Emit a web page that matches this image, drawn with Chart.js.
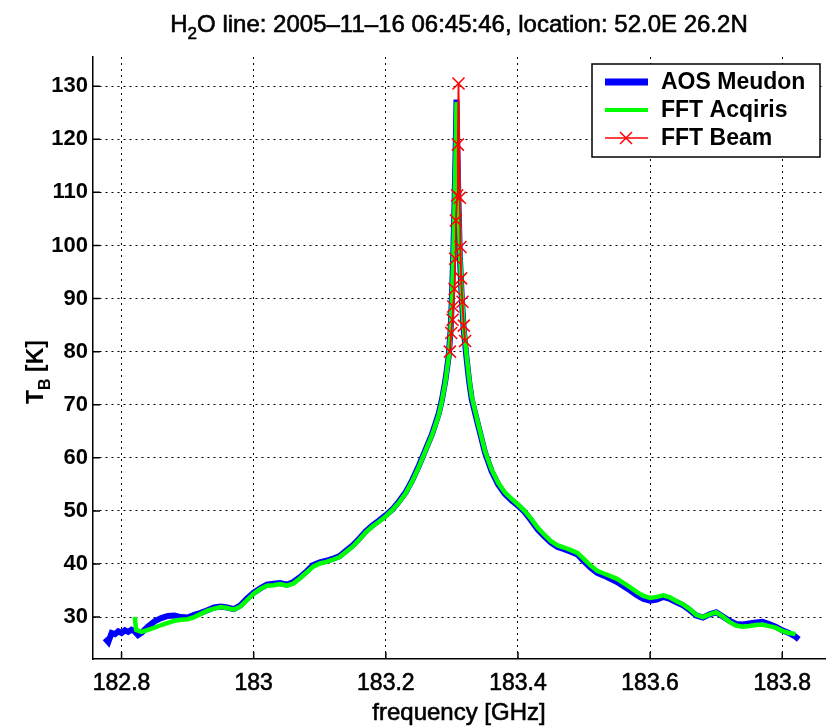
<!DOCTYPE html>
<html>
<head>
<meta charset="utf-8">
<script src="https://cdn.jsdelivr.net/npm/chart.js@4.4.1/dist/chart.umd.min.js"></script>
<style>
  html, body { margin: 0; padding: 0; background: #fff; }
  #wrap { width: 835px; height: 728px; position: relative; }
</style>
</head>
<body>
<div id="wrap"><canvas id="chart"></canvas></div>
<script>
// AOS Meudon spectrum
const aosFreq = [182.775, 182.78, 182.785, 182.79, 182.795, 182.8, 182.805, 182.81, 182.815, 182.82, 182.825,
  182.83, 182.84, 182.85, 182.86, 182.87, 182.88, 182.89, 182.9, 182.91, 182.92, 182.93, 182.94, 182.95, 182.96,
  182.97, 182.98, 182.99, 183.0, 183.01, 183.02, 183.03, 183.04, 183.05, 183.06, 183.07, 183.08, 183.09, 183.1,
  183.11, 183.12, 183.13, 183.14, 183.15, 183.16, 183.17, 183.18, 183.19, 183.2, 183.21, 183.22, 183.23, 183.24,
  183.25, 183.26, 183.27, 183.28, 183.285, 183.29, 183.295, 183.298, 183.3, 183.302, 183.304, 183.306, 183.307,
  183.308, 183.31, 183.312, 183.315, 183.318, 183.322, 183.326, 183.33, 183.34, 183.35, 183.36, 183.37, 183.38,
  183.39, 183.4, 183.41, 183.42, 183.43, 183.44, 183.45, 183.46, 183.47, 183.48, 183.49, 183.5, 183.51, 183.52,
  183.53, 183.54, 183.55, 183.56, 183.57, 183.58, 183.59, 183.6, 183.61, 183.62, 183.63, 183.64, 183.65, 183.66,
  183.67, 183.68, 183.69, 183.7, 183.71, 183.72, 183.73, 183.74, 183.75, 183.76, 183.77, 183.78, 183.79, 183.8,
  183.81, 183.82, 183.825];
const aosTb = [26.0, 25.3, 27.0, 26.8, 27.3, 27.0, 27.5, 27.2, 27.6, 27.3, 26.6,
  27.0, 28.2, 29.2, 29.8, 30.2, 30.3, 30.0, 29.9, 30.4, 30.8, 31.3, 31.8, 32.0, 31.8,
  31.5, 32.2, 33.5, 34.6, 35.4, 36.1, 36.3, 36.4, 36.1, 36.6, 37.5, 38.6, 39.8, 40.3,
  40.6, 41.0, 41.5, 42.5, 43.5, 44.8, 46.2, 47.3, 48.2, 49.2, 50.3, 51.8, 53.5, 55.8,
  58.5, 61.5, 64.5, 68.3, 71.0, 74.5, 79.0, 84.0, 90.0, 98.0, 108.0, 120.0, 127.5,
  120.0, 108.0, 98.0, 90.0, 84.0, 79.0, 74.5, 71.0, 66.0, 61.0, 57.5, 55.0, 53.2,
  52.0, 51.0, 49.8, 48.2, 46.5, 45.2, 44.0, 43.2, 42.8, 42.3, 41.8, 40.5, 39.3, 38.3,
  37.8, 37.2, 36.6, 35.8, 35.0, 34.1, 33.4, 33.1, 33.3, 33.8, 33.4, 32.8, 32.2, 31.3,
  30.3, 29.9, 30.5, 30.9, 30.1, 29.3, 28.7, 28.6, 28.8, 29.0, 29.1, 28.7, 28.2, 27.5,
  27.0, 26.3, 25.8];

// FFT Acqiris spectrum
const acqFreq = [182.82, 182.822, 182.83, 182.84, 182.85, 182.86, 182.87, 182.88, 182.89, 182.9, 182.91, 182.92,
  182.93, 182.94, 182.95, 182.96, 182.97, 182.98, 182.99, 183.0, 183.01, 183.02, 183.03, 183.04, 183.05, 183.06,
  183.07, 183.08, 183.09, 183.1, 183.11, 183.12, 183.13, 183.14, 183.15, 183.16, 183.17, 183.18, 183.19, 183.2,
  183.21, 183.22, 183.23, 183.24, 183.25, 183.26, 183.27, 183.28, 183.285, 183.29, 183.295, 183.298, 183.3,
  183.302, 183.304, 183.306, 183.307, 183.308, 183.31, 183.312, 183.315, 183.318, 183.322, 183.326, 183.33,
  183.34, 183.35, 183.36, 183.37, 183.38, 183.39, 183.4, 183.41, 183.42, 183.43, 183.44, 183.45, 183.46, 183.47,
  183.48, 183.49, 183.5, 183.51, 183.52, 183.53, 183.54, 183.55, 183.56, 183.57, 183.58, 183.59, 183.6, 183.61,
  183.62, 183.63, 183.64, 183.65, 183.66, 183.67, 183.68, 183.69, 183.7, 183.71, 183.72, 183.73, 183.74, 183.75,
  183.76, 183.77, 183.78, 183.79, 183.8, 183.81, 183.82];
const acqTb = [30.0, 27.6, 27.2, 27.6, 28.0, 28.5, 28.9, 29.3, 29.5, 29.6, 30.0, 30.6,
  31.2, 31.6, 31.9, 31.7, 31.4, 32.0, 33.2, 34.4, 35.3, 35.9, 36.0, 36.2, 35.9, 36.3,
  37.3, 38.4, 39.5, 40.1, 40.4, 40.8, 41.3, 42.3, 43.3, 44.6, 46.0, 47.1, 48.0, 49.0,
  50.2, 51.6, 53.3, 55.6, 58.3, 61.3, 64.3, 68.0, 70.8, 74.2, 78.8, 83.8, 89.5,
  97.5, 107.5, 119.5, 127.0, 121.0, 109.0, 99.0, 90.5, 84.5, 79.5, 75.0, 71.5,
  66.3, 61.3, 57.8, 55.3, 53.5, 52.3, 51.2, 50.0, 48.5, 46.8, 45.5, 44.3, 43.5, 43.1,
  42.6, 42.1, 40.9, 39.7, 38.7, 38.2, 37.7, 37.2, 36.4, 35.6, 34.7, 34.0, 33.6, 33.8,
  34.1, 33.7, 33.0, 32.4, 31.5, 30.4, 30.0, 30.5, 30.9, 30.1, 29.1, 28.4, 28.2, 28.3,
  28.5, 28.6, 28.3, 28.0, 27.4, 27.0, 26.8];

// FFT Beam spectrum (only the line centre)
const beamFreq = [183.297, 183.299, 183.301, 183.302, 183.304, 183.305, 183.306, 183.308, 183.309, 183.31,
  183.312, 183.313, 183.314, 183.316, 183.318, 183.32];
const beamTb = [80.0, 83.5, 86.0, 88.5, 91.8, 97.5, 104.7, 109.4, 119.0, 130.5,
  109.0, 99.7, 93.8, 89.4, 84.9, 82.0];

const xTicks = [182.8, 183, 183.2, 183.4, 183.6, 183.8];
const yTicks = [30, 40, 50, 60, 70, 80, 90, 100, 110, 120, 130];

const pts = (xs, ys) => xs.map((x, i) => ({ x: x, y: ys[i] }));

// draw text a bit heavier, like the blurry original
function heavyText(ctx, s, x, y) {
  ctx.lineWidth = 0.6;
  ctx.strokeStyle = '#000';
  ctx.strokeText(s, x, y);
  ctx.fillText(s, x, y);
}

// title, axis titles with subscripts, legend box, inward ticks
const decorations = {
  id: 'decorations',
  afterDraw(chart) {
    const ctx = chart.ctx;
    const area = chart.chartArea;
    const xs = chart.scales.x, ys = chart.scales.y;
    ctx.save();
    ctx.fillStyle = '#000';
    ctx.strokeStyle = '#000';

    // inward tick marks
    ctx.lineWidth = 1.5;
    ctx.beginPath();
    xTicks.forEach(v => {
      const px = xs.getPixelForValue(v);
      ctx.moveTo(px, area.bottom);
      ctx.lineTo(px, area.bottom - 7);
    });
    yTicks.forEach(v => {
      const py = ys.getPixelForValue(v);
      ctx.moveTo(area.left, py);
      ctx.lineTo(area.left + 7, py);
    });
    ctx.stroke();

    // title with subscript
    ctx.textBaseline = 'alphabetic';
    const f1 = '24px "Liberation Sans", Arial, sans-serif';
    const f2 = '17px "Liberation Sans", Arial, sans-serif';
    const parts = [['H', f1, 0], ['2', f2, 7], ['O line: 2005\u201311\u201316 06:45:46, location: 52.0E 26.2N', f1, 0]];
    let total = 0;
    parts.forEach(p => { ctx.font = p[1]; total += ctx.measureText(p[0]).width; });
    let tx = (area.left + area.right) / 2 - total / 2;
    parts.forEach(p => {
      ctx.font = p[1];
      heavyText(ctx, p[0], tx, 32 + p[2]);
      tx += ctx.measureText(p[0]).width;
    });

    // x axis title
    ctx.font = '24px "Liberation Sans", Arial, sans-serif';
    ctx.textAlign = 'center';
    heavyText(ctx, 'frequency [GHz]', (area.left + area.right) / 2, 720);

    // y axis title, rotated, with subscript B
    ctx.save();
    ctx.translate(43, 372);
    ctx.rotate(-Math.PI / 2);
    ctx.textAlign = 'left';
    const g1 = 'bold 23px "Liberation Sans", Arial, sans-serif';
    const g2 = 'bold 16px "Liberation Sans", Arial, sans-serif';
    const yparts = [['T', g1, 0], ['B', g2, 7], [' [K]', g1, 0]];
    let w = 0;
    yparts.forEach(p => { ctx.font = p[1]; w += ctx.measureText(p[0]).width; });
    let yx = -w / 2;
    yparts.forEach(p => {
      ctx.font = p[1];
      ctx.fillText(p[0], yx, p[2]);
      yx += ctx.measureText(p[0]).width;
    });
    ctx.restore();

    // legend box
    const bx = 592, by = 64, bw = 228, bh = 93;
    ctx.fillStyle = '#fff';
    ctx.fillRect(bx, by, bw, bh);
    ctx.lineWidth = 1.5;
    ctx.strokeRect(bx, by, bw, bh);
    ctx.font = 'bold 23px "Liberation Sans", Arial, sans-serif';
    ctx.textAlign = 'left';
    ctx.textBaseline = 'middle';
    const rows = [82, 110, 138];
    chart.data.datasets.forEach((ds, i) => {
      const ry = rows[i];
      ctx.strokeStyle = ds.borderColor;
      ctx.lineWidth = i === 0 ? 7 : (i === 1 ? 4 : 1.5);
      ctx.beginPath();
      ctx.moveTo(605, ry);
      ctx.lineTo(648, ry);
      ctx.stroke();
      if (i === 2) {
        ctx.beginPath();
        ctx.moveTo(620, ry - 6); ctx.lineTo(632, ry + 6);
        ctx.moveTo(620, ry + 6); ctx.lineTo(632, ry - 6);
        ctx.stroke();
      }
      ctx.fillStyle = '#000';
      ctx.fillText(ds.label, 661, ry + 1);
    });
    ctx.restore();
  }
};

new Chart(document.getElementById('chart'), {
  type: 'line',
  data: {
    datasets: [
      {
        label: 'AOS Meudon',
        data: pts(aosFreq, aosTb),
        borderColor: '#0000ff',
        borderWidth: 6,
        pointRadius: 0,
        order: 3
      },
      {
        label: 'FFT Acqiris',
        data: pts(acqFreq, acqTb),
        borderColor: '#00ff00',
        borderWidth: 4.5,
        pointRadius: 0,
        order: 2
      },
      {
        label: 'FFT Beam',
        data: pts(beamFreq, beamTb),
        borderColor: '#ff0000',
        backgroundColor: '#ff0000',
        borderWidth: 1.8,
        pointStyle: 'crossRot',
        pointRadius: 8.5,
        pointBorderWidth: 1.5,
        order: 1
      }
    ]
  },
  options: {
    responsive: true,
    maintainAspectRatio: false,
    animation: false,
    layout: { padding: { left: 0, right: 5, top: 57, bottom: 0 } },
    plugins: {
      legend: { display: false },
      title: { display: false },
      tooltip: { enabled: false }
    },
    scales: {
      x: {
        type: 'linear',
        min: 182.7568,
        max: 183.8647,
        afterBuildTicks: s => { s.ticks = xTicks.map(v => ({ value: v })); },
        afterFit: s => { s.height = 69; s.paddingLeft = 0; s.paddingRight = 0; },
        ticks: {
          color: '#000',
          padding: 11,
          maxRotation: 0,
          textStrokeColor: '#000',
          textStrokeWidth: 0.6,
          font: { family: '"Liberation Sans", Arial, sans-serif', size: 23 },
          callback: v => String(+v.toFixed(1))
        },
        grid: { color: '#000', lineWidth: 1, drawTicks: false },
        border: { display: true, color: '#000', width: 1.5, dash: [2, 4] }
      },
      y: {
        type: 'linear',
        min: 22.1,
        max: 135.5,
        afterBuildTicks: s => { s.ticks = yTicks.map(v => ({ value: v })); },
        afterFit: s => { s.width = 93; s.paddingTop = 0; s.paddingBottom = 0; },
        ticks: {
          color: '#000',
          padding: 5,
          font: { family: '"Liberation Sans", Arial, sans-serif', size: 22, weight: 'bold' }
        },
        grid: { color: '#000', lineWidth: 1, drawTicks: false },
        border: { display: true, color: '#000', width: 1.5, dash: [2, 4] }
      }
    }
  },
  plugins: [decorations]
});
</script>
</body>
</html>
